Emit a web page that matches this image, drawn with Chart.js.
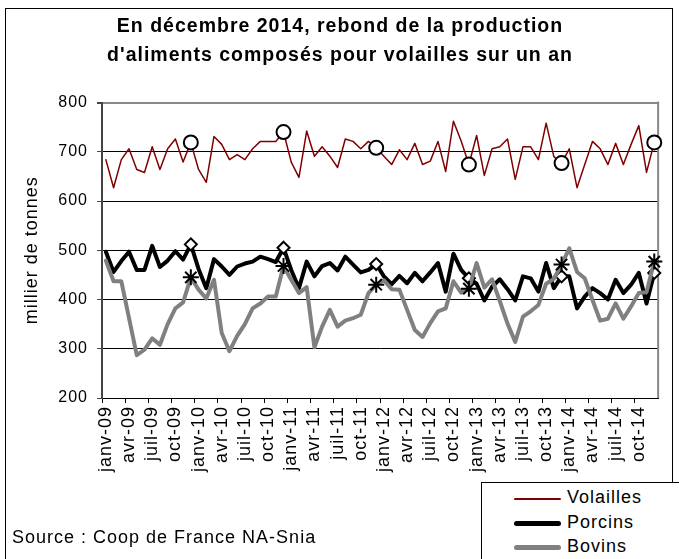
<!DOCTYPE html>
<html lang="fr">
<head>
<meta charset="utf-8">
<title>Production d'aliments composés</title>
<script src="https://cdn.jsdelivr.net/npm/chart.js@4.4.1/dist/chart.umd.min.js"></script>
<style>
  html, body { margin: 0; padding: 0; background: #fff; }
  #wrap { position: relative; width: 679px; height: 559px; overflow: hidden; background: #fff;
          font-family: 'Liberation Sans', Arial, sans-serif; color: #000; }
  #frame { position: absolute; left: 5px; top: 8px; width: 666px; height: 600px; border: 1px solid #000; }
  #chart { position: absolute; left: 0; top: 0; }
  #source { position: absolute; left: 12px; top: 527px; font-size: 18px; letter-spacing: 1px; white-space: nowrap; }
  #legend { position: absolute; left: 481px; top: 482px; width: 220px; height: 100px; border: 1px solid #000; background: #fff; }
  #legend .row { position: absolute; left: 0; height: 25px; width: 200px; }
  #legend .swatch { position: absolute; left: 32px; width: 47px; top: 50%; border-radius: 3px; }
  #legend .txt { position: absolute; left: 85px; top: 2px; font-size: 18px; letter-spacing: 1px; line-height: 20px; }
</style>
</head>
<body>
<div id="wrap">
  <div id="frame"></div>
  <canvas id="chart" width="679" height="559"></canvas>
  <div id="source">Source : Coop de France NA-Snia</div>
  <div id="legend"></div>
</div>
<script>
// Données mensuelles janv-09 -> déc-14 (milliers de tonnes)
const months = ['janv', 'févr', 'mars', 'avr', 'mai', 'juin', 'juil', 'août', 'sept', 'oct', 'nov', 'déc'];
const years = ['09', '10', '11', '12', '13', '14'];
const yTicks = [200, 300, 400, 500, 600, 700, 800];

const volailles = [
  684, 627, 684, 706, 664, 658, 710, 664, 706, 726, 679, 719,
  664, 638, 731, 715, 684, 694, 684, 706, 721, 721, 721, 740,
  679, 648, 742, 691, 710, 691, 668, 726, 721, 706, 721, 708,
  691, 674, 704, 684, 717, 674, 681, 721, 660, 762, 722, 674,
  733, 652, 706, 710, 726, 644, 710, 710, 684, 758, 690, 677,
  706, 627, 674, 721, 706, 674, 717, 674, 715, 753, 658, 719
];
const porcins = [
  497, 456, 478, 497, 460, 460, 509, 466, 479, 498, 481, 512,
  462, 423, 482, 467, 450, 467, 473, 477, 487, 482, 476, 505,
  460, 423, 477, 447, 468, 474, 459, 487, 471, 455, 460, 472,
  447, 431, 448, 433, 454, 437, 455, 474, 416, 493, 460, 443,
  432, 398, 426, 441, 421, 398, 447, 443, 416, 474, 423, 447,
  447, 382, 406, 423, 413, 400, 440, 413, 430, 454, 392, 454
];
const bovins = [
  479, 437, 437, 362, 287, 298, 321, 308, 350, 382, 394, 445,
  420, 402, 440, 332, 295, 326, 350, 382, 392, 406, 406, 468,
  440, 413, 425, 303, 345, 379, 345, 357, 362, 369, 413, 430,
  439, 421, 420, 379, 338, 324, 352, 376, 382, 437, 414, 422,
  474, 424, 441, 397, 351, 314, 365, 376, 389, 432, 442, 471,
  504, 456, 443, 399, 357, 361, 392, 361, 386, 413, 415, 477
];

const labels = [];
years.forEach(function(y) { months.forEach(function(m) { labels.push(m + '-' + y); }); });

const seriesNames = ['Volailles', 'Porcins', 'Bovins'];
const seriesColors = ['#800000', '#000000', '#808080'];
const seriesWidths = [2, 5, 5];

// marqueur sur chaque mois de décembre
function decRadius(r) {
  return function(ctx) { return ctx.dataIndex % 12 === 11 ? r : 0; };
}

// espacement des lettres (le rendu d'origine est un peu étiré)
const spacingPlugin = {
  id: 'spacing',
  beforeLayout(chart) { chart.ctx.letterSpacing = '1px'; },
  beforeDraw(chart) { chart.ctx.letterSpacing = '1px'; }
};

// bordure droite grise du cadre du graphique
const plotFrame = {
  id: 'plotFrame',
  beforeDatasetsDraw(chart) {
    const a = chart.chartArea, ctx = chart.ctx;
    ctx.save();
    ctx.strokeStyle = '#888';
    ctx.lineWidth = 2;
    ctx.beginPath();
    ctx.moveTo(a.right, a.top - 1);
    ctx.lineTo(a.right, a.bottom);
    ctx.stroke();
    ctx.restore();
  }
};

Chart.defaults.font.family = "'Liberation Sans', Arial, sans-serif";
Chart.defaults.color = '#000';

new Chart(document.getElementById('chart').getContext('2d'), {
  type: 'line',
  data: {
    labels: labels,
    datasets: [
      {
        label: seriesNames[0], data: volailles,
        borderColor: seriesColors[0], borderWidth: 1.5,
        pointStyle: 'circle', pointRadius: decRadius(7),
        pointBorderColor: '#000', pointBackgroundColor: '#fff', pointBorderWidth: 2,
        order: 3
      },
      {
        label: seriesNames[1], data: porcins,
        borderColor: seriesColors[1], borderWidth: 4,
        pointStyle: 'rectRot', pointRadius: decRadius(6),
        pointBorderColor: '#000', pointBackgroundColor: '#fff', pointBorderWidth: 2,
        order: 2
      },
      {
        label: seriesNames[2], data: bovins,
        borderColor: seriesColors[2], borderWidth: 4,
        pointStyle: 'star', pointRadius: decRadius(8),
        pointBorderColor: '#000', pointBackgroundColor: '#fff', pointBorderWidth: 2,
        order: 1
      }
    ]
  },
  options: {
    responsive: false,
    animation: false,
    devicePixelRatio: 1,
    layout: { padding: { left: 21, right: 20, top: 0, bottom: 76 } },
    elements: { line: { tension: 0, borderJoinStyle: 'round', borderCapStyle: 'round' } },
    plugins: {
      legend: { display: false },
      tooltip: { enabled: false },
      title: {
        display: true,
        text: ['En décembre 2014, rebond de la production', "d'aliments composés pour volailles sur un an"],
        font: { size: 19.5, weight: 'bold', lineHeight: 1.5 },
        color: '#000',
        padding: { top: 12, bottom: 32 }
      }
    },
    scales: {
      x: {
        type: 'category',
        offset: true,
        afterFit: function(s) { s.height = 85; },
        grid: {
          offset: true,
          drawOnChartArea: false,
          drawTicks: true,
          tickLength: 5,
          color: function(ctx) { return ctx.index % 3 === 0 ? '#000' : 'rgba(0,0,0,0)'; }
        },
        border: { display: true, color: '#000', width: 1 },
        ticks: {
          autoSkip: false,
          maxRotation: 90,
          minRotation: 90,
          padding: 3,
          font: { size: 18 },
          callback: function(val, idx) { return idx % 3 === 0 ? this.getLabelForValue(val) : ''; }
        }
      },
      y: {
        min: yTicks[0],
        max: yTicks[yTicks.length - 1],
        afterFit: function(s) { s.width = 81; },
        afterBuildTicks: function(s) { s.ticks = yTicks.map(function(v) { return { value: v }; }); },
        grid: {
          color: function(ctx) { return ctx.tick && ctx.tick.value === 800 ? '#888' : '#000'; },
          lineWidth: function(ctx) { return ctx.tick && ctx.tick.value === 800 ? 2 : 1; },
          tickColor: '#444',
          tickLength: 5
        },
        border: { display: true, color: '#444', width: 2 },
        title: {
          display: true,
          text: 'millier de tonnes',
          font: { size: 18 },
          color: '#000',
          padding: { top: 0, bottom: 0 }
        },
        ticks: { padding: 9, font: { size: 16 } }
      }
    }
  },
  plugins: [spacingPlugin, plotFrame]
});

// légende HTML (cadre en bas à droite)
const legend = document.getElementById('legend');
const rowTops = [2, 27, 51];
seriesNames.forEach(function(name, i) {
  const row = document.createElement('div');
  row.className = 'row';
  row.style.top = rowTops[i] + 'px';
  const sw = document.createElement('div');
  sw.className = 'swatch';
  sw.style.height = seriesWidths[i] + 'px';
  sw.style.marginTop = (-seriesWidths[i] / 2 + 1) + 'px';
  sw.style.background = seriesColors[i];
  const txt = document.createElement('div');
  txt.className = 'txt';
  txt.textContent = name;
  row.appendChild(sw);
  row.appendChild(txt);
  legend.appendChild(row);
});
</script>
</body>
</html>
